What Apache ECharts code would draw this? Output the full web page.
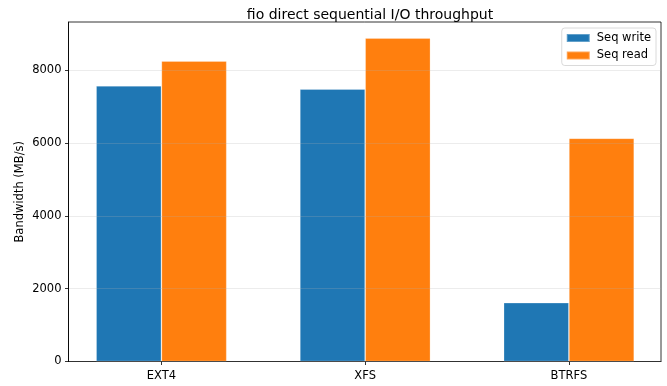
<!DOCTYPE html>
<html>
<head>
<meta charset="utf-8">
<script src="https://cdn.jsdelivr.net/npm/echarts@6/dist/echarts.min.js"></script>
<style>html,body{margin:0;padding:0;background:#fff}#c{width:667px;height:386px}</style>
</head>
<body>
<div id="c"></div>
<script>
const categories = ['EXT4', 'XFS', 'BTRFS'];
const seqWrite = [7570, 7480, 1615];
const seqRead = [8250, 8880, 6130];
const yTicks = [0, 2000, 4000, 6000, 8000];
const seriesNames = ['Seq write', 'Seq read'];

const FONT = 'DejaVu Sans';
const chart = echarts.init(document.getElementById('c'), null, {renderer: 'canvas'});
const pos = categories.map((_, i) => i);
chart.setOption({
  animation: false,
  backgroundColor: '#fff',
  title: {
    text: 'fio direct sequential I/O throughput',
    left: 365, top: 3, textAlign: 'center',
    textStyle: {fontFamily: FONT, fontSize: 14, fontWeight: 'normal', color: '#000'}
  },
  legend: {
    data: seriesNames,
    orient: 'vertical',
    right: 11, top: 28,
    itemWidth: 23, itemHeight: 8, itemGap: 3.5,
    padding: [3, 5, 3, 4],
    borderColor: '#d0d0d0', borderWidth: 0.8, borderRadius: 3,
    backgroundColor: 'rgba(255,255,255,0.8)',
    icon: 'rect',
    textStyle: {fontFamily: FONT, fontSize: 11.5, color: '#000', padding: [0, 0, 0, 2], lineHeight: 14}
  },
  grid: {
    left: 68.5, right: 6, top: 22, bottom: 24.5,
    show: true, borderColor: '#000', borderWidth: 0.8, backgroundColor: 'transparent'
  },
  xAxis: {
    type: 'value', min: -0.456, max: 2.452,
    splitLine: {show: false},
    axisLine: {show: true, onZero: false, lineStyle: {color: '#000', width: 0.8}},
    axisTick: {show: true, customValues: pos, length: 3.5, lineStyle: {color: '#000', width: 0.8}},
    axisLabel: {
      customValues: pos, margin: 9,
      formatter: v => categories[Math.round(v)],
      fontFamily: FONT, fontSize: 11.5, color: '#000'
    }
  },
  yAxis: {
    type: 'value', min: 0, max: 9323, interval: 2000, z: 3,
    name: 'Bandwidth (MB/s)', nameLocation: 'middle', nameGap: 42, nameMoveOverlap: false,
    nameTextStyle: {fontFamily: FONT, fontSize: 11.5, color: '#000'},
    axisLine: {show: true, onZero: false, lineStyle: {color: '#000', width: 0.8}},
    axisTick: {show: true, customValues: yTicks, length: 3.5, lineStyle: {color: '#000', width: 0.8}},
    axisLabel: {
      margin: 7, fontFamily: FONT, fontSize: 11.5, color: '#000',
      customValues: yTicks,
      formatter: v => String(v)
    },
    splitLine: {show: true, lineStyle: {color: 'rgba(176,176,176,0.3)', width: 0.8}}
  },
  series: [
    {
      name: seriesNames[0], type: 'bar', barWidth: 65.3, barGap: '0%',
      itemStyle: {color: '#1f77b4', borderColor: 'rgba(255,255,255,0.3)', borderWidth: 0.8},
      data: seqWrite.map((v, i) => [pos[i], v])
    },
    {
      name: seriesNames[1], type: 'bar', barWidth: 65.3, barGap: '0%',
      itemStyle: {color: '#ff7f0e', borderColor: 'rgba(255,255,255,0.3)', borderWidth: 0.8},
      data: seqRead.map((v, i) => [pos[i], v])
    }
  ]
});
</script>
</body>
</html>
